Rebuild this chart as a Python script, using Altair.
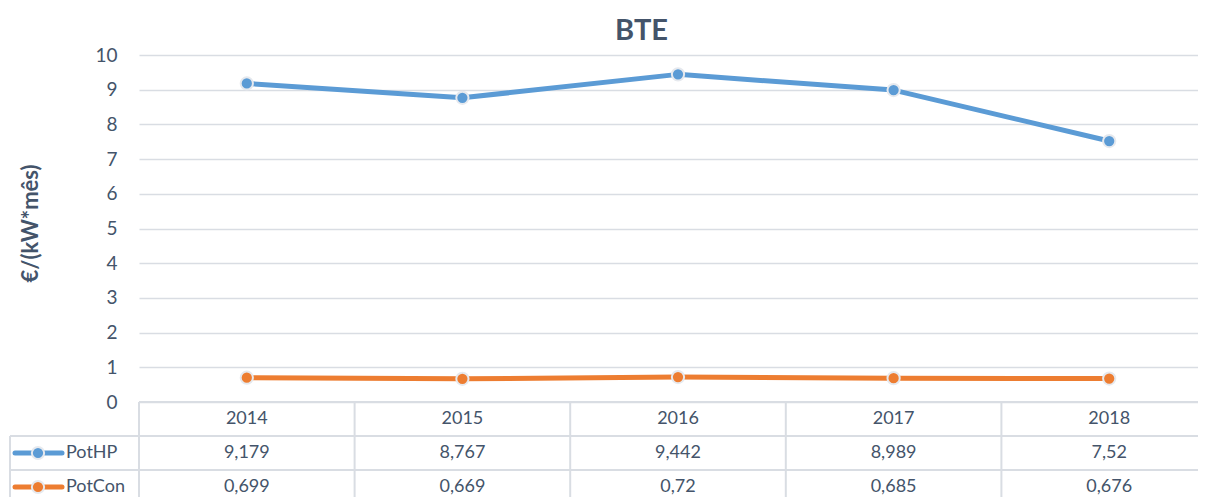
import altair as alt
import pandas as pd

years = ["2014", "2015", "2016", "2017", "2018"]
pothp = [9.179, 8.767, 9.442, 8.989, 7.52]
potcon = [0.699, 0.669, 0.72, 0.685, 0.676]
series = ["PotHP", "PotCon"]
colors = ["#5B9BD5", "#ED7D31"]
row_names = ["Ano", "PotHP", "PotCon"]

rows = []
for s, vals in zip(series, [pothp, potcon]):
    for y, v in zip(years, vals):
        rows.append({"year": y, "series": s, "row": s, "value": v,
                     "label": str(v).replace(".", ",")})
df = pd.DataFrame(rows)
year_df = pd.DataFrame({"year": years, "row": ["Ano"] * len(years)})
leg_df = pd.DataFrame({"series": series, "row": series})
bound_df = pd.DataFrame({"row": series})

TXT = "#44546A"
GRID = "#d9dde3"
FONT = "Lato"
W, H = 1059, 347
XR = 1078

xscale = alt.Scale(domain=years, range=[0, XR], paddingInner=0, paddingOuter=0)
cscale = alt.Scale(domain=series, range=colors)
tscale = alt.Scale(domain=row_names, range=[347, 449], paddingInner=0, paddingOuter=0)
yscale = alt.Scale(domain=[0, 10])

X = alt.X("year:O", scale=xscale, axis=None)
COL = alt.Color("series:N", scale=cscale, legend=None)

yaxis = alt.Axis(values=list(range(11)), title="€/(kW*mês)", grid=True, gridColor=GRID,
                 gridWidth=1.5, domain=False, ticks=False, labelFont=FONT, labelFontSize=19,
                 labelColor=TXT, labelPadding=22, titleFont=FONT, titleFontSize=22,
                 titleFontWeight="bold", titleColor=TXT, titleAngle=270, titleX=-109,
                 titleY=168, titleAlign="center", titleBaseline="middle")

lines = alt.Chart(df).mark_line(strokeWidth=5, strokeCap="round", strokeJoin="round").encode(
    x=X, y=alt.Y("value:Q", scale=yscale, axis=yaxis), color=COL)
points = alt.Chart(df).mark_point(filled=True, size=150, stroke="#e6e9ee", strokeWidth=2,
                                  opacity=1).encode(
    x=X, y=alt.Y("value:Q", scale=yscale, axis=None), color=COL)

# data table
TY = lambda f: alt.Y(f, scale=tscale, axis=None)
year_txt = alt.Chart(year_df).mark_text(font=FONT, fontSize=18, color=TXT).encode(
    x=X, y=TY("row:N"), text="year:N")
val_txt = alt.Chart(df).mark_text(font=FONT, fontSize=18, color=TXT).encode(
    x=X, y=TY("row:N"), text="label:N")
leg_line = alt.Chart(leg_df).mark_rule(strokeWidth=5, strokeCap="round").encode(
    x=alt.value(-124), x2=alt.value(-77), y=TY("row:N"), color=COL)
leg_pt = alt.Chart(leg_df).mark_point(filled=True, size=150, stroke="#e6e9ee", strokeWidth=2,
                                      opacity=1).encode(
    x=alt.value(-101), y=TY("row:N"), color=COL)
leg_txt = alt.Chart(leg_df).mark_text(font=FONT, fontSize=18, color=TXT, align="left").encode(
    x=alt.value(-73), y=TY("row:N"), text="series:N")

hlines = alt.Chart(bound_df).mark_rule(color=GRID, strokeWidth=2).encode(
    x=alt.value(-129), x2=alt.value(XR), y=alt.Y("row:N", scale=tscale, axis=None, bandPosition=0))
top_line = alt.Chart(year_df).mark_rule(color=GRID, strokeWidth=2).encode(
    x=alt.value(0), x2=alt.value(XR), y=alt.value(347))
vlines = alt.Chart(year_df).mark_rule(color=GRID, strokeWidth=2).encode(
    x=alt.X("year:O", scale=xscale, axis=None, bandPosition=0), y=alt.value(347), y2=alt.value(449))
left_line = alt.Chart(bound_df).mark_rule(color=GRID, strokeWidth=2).encode(
    x=alt.value(-129), y=alt.value(381), y2=alt.value(449))

chart = alt.layer(
    lines, points,
    hlines, top_line, vlines, left_line,
    year_txt, val_txt, leg_line, leg_pt, leg_txt,
).resolve_scale(y="independent").properties(
    width=W, height=H,
    autosize=alt.AutoSizeParams(type="none"),
    padding={"left": 131, "top": 47, "right": 0, "bottom": 95},
    title=alt.Title("BTE", font=FONT, fontSize=29, fontWeight="bold", color=TXT,
                    anchor="middle", dx=-27, offset=0),
).configure_view(stroke=None)

chart.save("out.html", embed_options={"renderer": "svg", "actions": False})
